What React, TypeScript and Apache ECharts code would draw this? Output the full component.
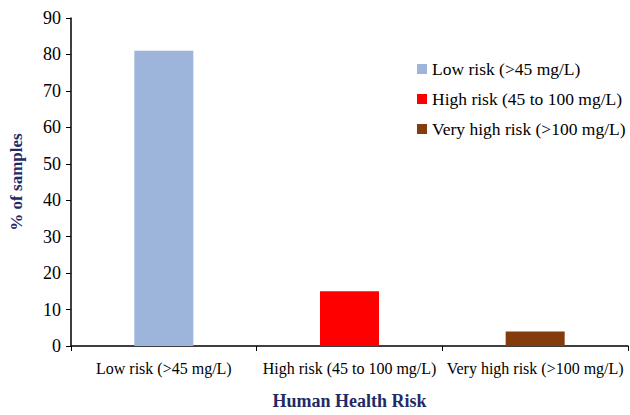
import React, { useEffect, useRef } from "react";
import * as echarts from "echarts";

const categories = ["Low risk (>45 mg/L)", "High risk (45 to 100 mg/L)", "Very high risk (>100 mg/L)"];
const values = [81, 15, 4];
const colors = ["#9DB4DB", "#FF0000", "#843C0C"];
const yTicks = { min: 0, max: 90, interval: 10 };

const FONT = "'Liberation Serif', 'DejaVu Serif', serif";

export default function App() {
  const ref = useRef<HTMLDivElement>(null);
  useEffect(() => {
    if (!ref.current) return;
    const chart = echarts.init(ref.current, undefined, { renderer: "svg" });
    const series = categories.map((name, i) => ({
      name,
      type: "bar",
      stack: "all",
      barWidth: 59,
      itemStyle: { color: colors[i] },
      data: values.map((v, j) => (j === i ? v : "-")),
    }));
    chart.setOption({
      animation: false,
      textStyle: { fontFamily: FONT },
      grid: { left: 69, right: 2, top: 18, bottom: 67 },
      legend: {
        orient: "vertical",
        left: 412,
        top: 55,
        itemWidth: 10,
        itemHeight: 10,
        itemGap: 12,
        itemTextGap: 4,
        icon: "rect",
        textStyle: { fontFamily: FONT, fontSize: 17.5, color: "#000" },
        data: categories,
      },
      xAxis: {
        type: "category",
        data: categories,
        axisLine: { lineStyle: { color: "#000", width: 1.5 } },
        axisTick: { show: true, length: 5, lineStyle: { color: "#000" } },
        axisLabel: { color: "#000", fontSize: 16, fontFamily: FONT, margin: 14, interval: 0, hideOverlap: false },
        name: "Human Health Risk",
        nameLocation: "middle",
        nameGap: 46,
        nameTextStyle: { color: "#1F2A66", fontSize: 18, fontWeight: "bold", fontFamily: FONT },
      },
      yAxis: {
        type: "value",
        min: yTicks.min,
        max: yTicks.max,
        interval: yTicks.interval,
        splitLine: { show: false },
        axisLine: { show: true, lineStyle: { color: "#000", width: 1.5 } },
        axisTick: { show: true, length: 5, lineStyle: { color: "#000" } },
        axisLabel: { color: "#000", fontSize: 18, fontFamily: FONT, margin: 10 },
        name: "% of samples",
        nameLocation: "middle",
        nameGap: 46,
        nameRotate: 90,
        nameTextStyle: { color: "#1F2A66", fontSize: 17, fontWeight: "bold", fontFamily: FONT },
      },
      series,
    });
    return () => chart.dispose();
  }, []);
  return <div ref={ref} style={{ width: 630, height: 415, position: "absolute", left: 0, top: 0 }} />;
}
